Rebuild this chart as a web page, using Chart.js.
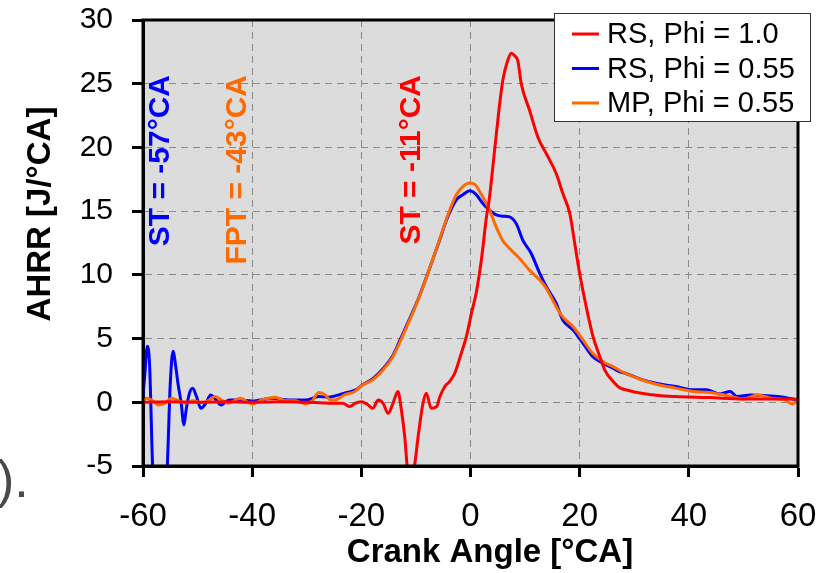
<!DOCTYPE html>
<html>
<head>
<meta charset="utf-8">
<script src="https://cdn.jsdelivr.net/npm/chart.js@4.4.1/dist/chart.umd.min.js"></script>
<style>
  html, body { margin: 0; padding: 0; background: #ffffff; }
  #wrap { position: relative; width: 836px; height: 573px; }
  canvas { display: block; }
</style>
</head>
<body>
<div id="wrap"><canvas id="c" width="836" height="573"></canvas></div>
<script>
// ---- Data ----
const seriesLabels = ['RS, Phi = 1.0', 'RS, Phi = 0.55', 'MP, Phi = 0.55'];
const seriesColors = ['#ff0000', '#0000ff', '#ff6a00'];

const xTicks = [-60, -40, -20, 0, 20, 40, 60];
const yTicks = [-5, 0, 5, 10, 15, 20, 25, 30];

const caRed = [-60, -55, -50, -45, -40, -35, -30, -27, -25.8, -24, -23.4, -22.1, -21.2, -20, -18.8, -17.9, -16.9, -16.0, -15.1, -14.2, -13.3, -12.66, -12.05, -11.5, -11.0, -10.5, -10.2, -9.6, -8.7, -8.1, -7.2, -6.2, -5.6, -4.7, -3.8, -2.87, -1.65, -0.73, 0.18, 1.1, 2.0, 2.94, 3.4, 4.1, 5.2, 5.93, 6.8, 7.46, 8.1, 8.68, 9.3, 10.83, 12.35, 13.9, 15.7, 16.9, 18.2, 19.1, 20.0, 21.2, 22.45, 23.7, 24.6, 26.1, 27.3, 28.8, 31.3, 34.4, 37.6, 43.8, 50.1, 56.3, 60];
const ahrrRed = [0, 0.05, 0, 0.05, 0, 0.05, 0, -0.05, -0.08, -0.08, -0.08, -0.34, -0.08, 0.05, -0.2, -0.47, 0.18, -0.08, -0.87, -0.08, 0.84, -0.6, -2.7, -5.5, -6.5, -5.3, -4.8, -2.7, -0.08, 0.71, -0.47, -0.34, 0.45, 1.24, 1.64, 2.3, 3.9, 5.2, 7.0, 8.7, 11.2, 14.6, 15.8, 18.5, 22.9, 25.3, 26.8, 27.4, 27.2, 26.8, 25.0, 22.9, 20.8, 19.5, 17.95, 16.4, 14.8, 12.46, 10.1, 7.5, 5.15, 3.58, 2.53, 1.65, 1.15, 0.95, 0.71, 0.53, 0.45, 0.37, 0.26, 0.26, 0.24];

const caBlue = [-60, -59.7, -59.2, -58.8, -58.2, -57.5, -56.5, -55.6, -55.0, -54.5, -54.0, -53.6, -53.0, -52.5, -52.1, -51.5, -50.9, -50.2, -49.4, -48.5, -47.6, -46.6, -45.7, -44.2, -42.4, -40, -36.3, -33.3, -30.2, -27.8, -26, -24.1, -22.8, -20.9, -19.7, -17.9, -16.0, -14.2, -13.0, -11.1, -9.3, -7.5, -5.6, -4.4, -2.57, -1.35, -0.12, 0.5, 1.04, 2.26, 3.5, 4.7, 6.0, 7.16, 8.4, 9.6, 11.1, 12.7, 13.9, 15.7, 16.9, 18.8, 20.6, 22.4, 24.3, 26.1, 27.3, 28.2, 31.3, 34.4, 37.6, 40.7, 43.2, 45.7, 47.6, 48.8, 51.3, 56.3, 60];
const ahrrBlue = [0.5, 2.0, 4.4, 3.0, -5.5, -9, -9, -5.5, 1.5, 4.0, 2.8, 1.5, -0.08, -1.78, -0.6, 0.7, 1.1, 0.45, -0.47, -0.08, 0.58, 0.18, -0.21, 0.18, 0.18, 0.1, 0.31, 0.18, 0.18, 0.45, 0.4, 0.58, 0.75, 1.0, 1.4, 1.85, 2.65, 3.7, 4.8, 6.6, 8.4, 10.5, 12.8, 14.3, 15.9, 16.3, 16.6, 16.5, 16.3, 15.6, 15.08, 14.7, 14.6, 14.55, 14.0, 12.7, 11.7, 10.1, 9.07, 7.76, 6.45, 5.67, 4.62, 3.58, 3.06, 2.67, 2.4, 2.3, 1.8, 1.45, 1.24, 0.98, 0.98, 0.66, 0.85, 0.45, 0.58, 0.45, 0.18];

const caOrange = [-60, -59.3, -58.4, -57.2, -56, -54.8, -53.5, -52.3, -50.8, -49.3, -48.0, -46.8, -45.6, -44.4, -42.2, -40, -38.2, -35.8, -33.9, -32.1, -30.3, -29.1, -27.8, -26.6, -25.7, -24.9, -23.1, -21.2, -19.7, -17.9, -16.0, -14.2, -13.0, -11.1, -9.3, -7.5, -5.6, -4.4, -2.57, -1.35, -0.2, 0.8, 2.0, 2.9, 3.5, 4.7, 5.9, 7.16, 9.0, 10.8, 12.7, 13.9, 15.7, 16.9, 18.8, 20.6, 22.4, 24.3, 26.1, 28.2, 31.3, 34.4, 37.6, 40.7, 43.8, 46.9, 50.1, 52.6, 55.1, 57.6, 58.9, 60];
const ahrrOrange = [0.05, 0.31, 0.18, -0.21, -0.08, 0.31, 0.13, -0.08, 0.13, -0.03, 0.13, 0.45, 0.18, -0.08, 0.31, -0.13, 0.18, 0.39, 0.13, 0.13, -0.13, 0.05, 0.76, 0.58, 0.18, 0.18, 0.58, 0.85, 1.37, 1.77, 2.56, 3.6, 4.67, 6.5, 8.36, 10.5, 12.85, 14.4, 16.3, 16.94, 17.2, 17.1, 16.3, 15.6, 15.08, 13.77, 12.7, 12.07, 11.29, 10.37, 9.59, 8.94, 7.5, 6.7, 5.93, 4.89, 3.84, 3.19, 2.8, 2.3, 1.77, 1.38, 1.11, 0.85, 0.77, 0.53, 0.26, 0.58, 0.32, 0.19, -0.13, 0.13];

const annotations = [
  { text: 'ST = -57°CA', color: '#0000ff', x: -57 },
  { text: 'FPT = -43°CA', color: '#ff6a00', x: -43 },
  { text: 'ST = -11°CA', color: '#ff0000', x: -11 }
];
const xTitle = 'Crank Angle [°CA]';
const yTitle = 'AHRR [J/°CA]';

const FONT = "'Liberation Sans', Arial, Helvetica, sans-serif";

function pts(xs, ys) { return xs.map((x, i) => ({ x: x, y: ys[i] })); }

const bgPlugin = {
  id: 'bg',
  beforeDraw(chart) {
    const { ctx, chartArea: a } = chart;
    ctx.save();
    ctx.fillStyle = '#dcdcdc';
    ctx.fillRect(a.left, a.top, a.right - a.left, a.bottom - a.top);
    ctx.restore();
  }
};

const overlayPlugin = {
  id: 'overlay',
  afterDraw(chart) {
    const { ctx, chartArea: a, scales } = chart;
    ctx.save();
    // frame
    ctx.strokeStyle = '#000';
    ctx.lineWidth = 3;
    ctx.strokeRect(a.left, a.top, a.right - a.left, a.bottom - a.top);

    // rotated annotations
    ctx.font = 'bold 30px ' + FONT;
    ctx.textAlign = 'right';
    ctx.textBaseline = 'alphabetic';
    annotations.forEach(an => {
      const px = scales.x.getPixelForValue(an.x);
      ctx.save();
      ctx.translate(px + 10, 75);
      ctx.rotate(-Math.PI / 2);
      ctx.fillStyle = an.color;
      ctx.fillText(an.text, 0, 0);
      ctx.restore();
    });

    // axis titles
    ctx.fillStyle = '#000';
    ctx.font = 'bold 33px ' + FONT;
    ctx.textAlign = 'center';
    ctx.textBaseline = 'middle';
    ctx.fillText(xTitle, 490, 553);
    ctx.save();
    ctx.translate(41, 214);
    ctx.rotate(-Math.PI / 2);
    ctx.fillText(yTitle, 0, 0);
    ctx.restore();

    // legend
    const lx = 554, ly = 13, lw = 256, lh = 108;
    ctx.fillStyle = '#ffffff';
    ctx.fillRect(lx, ly, lw, lh);
    ctx.strokeStyle = '#333';
    ctx.lineWidth = 1;
    ctx.strokeRect(lx + 0.5, ly + 0.5, lw, lh);
    ctx.font = '29px ' + FONT;
    ctx.textAlign = 'left';
    ctx.textBaseline = 'middle';
    seriesLabels.forEach((lab, i) => {
      const yy = 34 + i * 34.5;
      ctx.strokeStyle = seriesColors[i];
      ctx.lineWidth = 3;
      ctx.beginPath();
      ctx.moveTo(572, yy);
      ctx.lineTo(599, yy);
      ctx.stroke();
      ctx.fillStyle = '#000';
      ctx.fillText(lab, 607, yy + 1);
    });

    // fragment of surrounding text at bottom-left
    ctx.fillStyle = '#4a4a4a';
    ctx.font = '52px ' + FONT;
    ctx.textAlign = 'left';
    ctx.textBaseline = 'alphabetic';
    ctx.fillText(').', -3, 497);
    ctx.restore();
  }
};

new Chart(document.getElementById('c'), {
  type: 'line',
  data: {
    datasets: [
      { label: seriesLabels[0], data: pts(caRed, ahrrRed), borderColor: seriesColors[0], order: 0 },
      { label: seriesLabels[1], data: pts(caBlue, ahrrBlue), borderColor: seriesColors[1], order: 2 },
      { label: seriesLabels[2], data: pts(caOrange, ahrrOrange), borderColor: seriesColors[2], order: 1 }
    ].map(d => Object.assign(d, { borderWidth: 3, pointRadius: 0, fill: false, tension: 0.3, cubicInterpolationMode: 'monotone' }))
  },
  options: {
    responsive: false,
    animation: false,
    devicePixelRatio: 1,
    layout: { padding: { top: 20, right: 38, left: 0, bottom: 0 } },
    plugins: { legend: { display: false }, tooltip: { enabled: false }, title: { display: false } },
    scales: {
      x: {
        type: 'linear',
        min: -60, max: 60,
        afterFit: s => { s.height = 107; s.paddingLeft = 0; s.paddingRight = 0; },
        afterBuildTicks: s => { s.ticks = xTicks.map(v => ({ value: v })); },
        ticks: { font: { family: FONT, size: 33 }, color: '#000', padding: 20, maxRotation: 0, autoSkip: false },
        grid: { color: '#8a8a8a', lineWidth: 1, tickLength: 11, tickColor: '#000', tickWidth: 3 },
        border: { display: true, color: '#000', width: 3, dash: [7, 5] }
      },
      y: {
        type: 'linear',
        min: -5, max: 30,
        afterFit: s => { s.width = 143; s.paddingTop = 0; s.paddingBottom = 0; },
        afterBuildTicks: s => { s.ticks = yTicks.map(v => ({ value: v })); },
        ticks: { font: { family: FONT, size: 30 }, color: '#000', padding: 19, autoSkip: false },
        grid: { color: '#8a8a8a', lineWidth: 1, tickLength: 11, tickColor: '#000', tickWidth: 3 },
        border: { display: true, color: '#000', width: 3, dash: [7, 5] }
      }
    }
  },
  plugins: [bgPlugin, overlayPlugin]
});
</script>
</body>
</html>
